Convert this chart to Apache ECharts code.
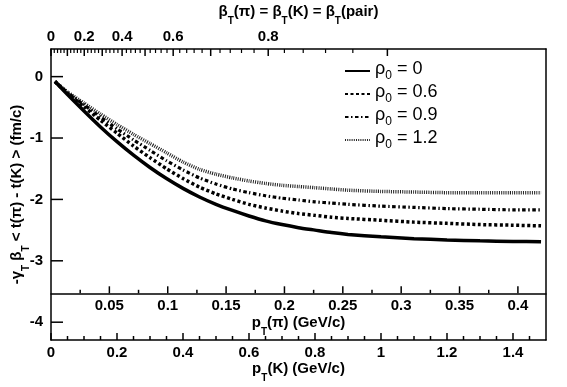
<!DOCTYPE html>
<html><head><meta charset="utf-8">
<script src="https://cdn.jsdelivr.net/npm/echarts@6/dist/echarts.min.js"></script>
<style>html,body{margin:0;padding:0;background:#fff}#c{width:567px;height:387px}</style>
</head><body><div id="c"></div>
<script>
// pT(K) in GeV/c
const pK    = [0.012, 0.05, 0.1, 0.15, 0.2, 0.25, 0.3, 0.35, 0.4, 0.45, 0.5, 0.55, 0.6, 0.65, 0.7, 0.75, 0.8, 0.85, 0.9, 1.0, 1.1, 1.2, 1.3, 1.4, 1.485];
const rho0  = [-0.08,-0.29,-0.56,-0.82,-1.06,-1.28,-1.48,-1.66,-1.82,-1.96,-2.08,-2.18,-2.27,-2.35,-2.41,-2.46,-2.50,-2.54,-2.57,-2.61,-2.64,-2.66,-2.675,-2.685,-2.69];
const rho06 = [-0.08,-0.27,-0.49,-0.71,-0.92,-1.13,-1.32,-1.50,-1.66,-1.80,-1.91,-2.00,-2.08,-2.14,-2.19,-2.23,-2.26,-2.29,-2.31,-2.34,-2.37,-2.39,-2.41,-2.42,-2.43];
const rho09 = [-0.08,-0.26,-0.46,-0.66,-0.85,-1.03,-1.20,-1.37,-1.52,-1.65,-1.75,-1.83,-1.89,-1.94,-1.98,-2.01,-2.04,-2.06,-2.08,-2.11,-2.13,-2.15,-2.16,-2.17,-2.17];
const rho12 = [-0.08,-0.25,-0.43,-0.61,-0.78,-0.94,-1.09,-1.24,-1.39,-1.51,-1.59,-1.65,-1.70,-1.74,-1.77,-1.79,-1.81,-1.83,-1.85,-1.87,-1.88,-1.89,-1.89,-1.89,-1.89];
const rhoLabels = ['0', '0.6', '0.9', '1.2'];
// tick values
const yTicks = [-4, -3, -2, -1, 0];
const pKMajor = [0, 0.2, 0.4, 0.6, 0.8, 1.0, 1.2, 1.4];
const pKMinor = [0.05,0.1,0.15,0.25,0.3,0.35,0.45,0.5,0.55,0.65,0.7,0.75,0.85,0.9,0.95,1.05,1.1,1.15,1.25,1.3,1.35,1.45];
const piMajor = [0.05, 0.1, 0.15, 0.2, 0.25, 0.3, 0.35, 0.4];
const piMinor = [0.025, 0.075, 0.125, 0.175, 0.225, 0.275, 0.325, 0.375];
const betaMajor = [0, 0.1, 0.2, 0.3, 0.4, 0.5, 0.6, 0.7, 0.8, 0.9];
const betaMinor = [0.02,0.04,0.06,0.08,0.12,0.14,0.16,0.18,0.22,0.24,0.26,0.28,0.32,0.34,0.36,0.38,0.42,0.44,0.46,0.48,0.52,0.54,0.56,0.58,0.62,0.64,0.66,0.68,0.72,0.74,0.76,0.78,0.82,0.84,0.86,0.88];
const betaLabels = [0, 0.2, 0.4, 0.6, 0.8];
const mK = 0.49368, mPi = 0.13957;
const pKmax = 1.5;
const yMin = -4.29, yMax = 0.45;

const pFromBeta = b => b * mK / Math.sqrt(1 - b * b);
const betaFromP = p => p / Math.sqrt(p * p + mK * mK);

const FONT = 'Liberation Sans, Arial, sans-serif';
const lbl = {fontFamily: FONT, fontWeight: 'bold', fontSize: 15, color: '#000'};
const richBold = {
  a: {fontFamily: FONT, fontWeight: 'bold', fontSize: 15, color: '#000', lineHeight: 22, verticalAlign: 'top'},
  s: {fontFamily: FONT, fontWeight: 'bold', fontSize: 10, color: '#000', lineHeight: 10, verticalAlign: 'bottom'}
};
const richLegend = {
  a: {fontFamily: FONT, fontSize: 18, color: '#000', lineHeight: 22, verticalAlign: 'top'},
  s: {fontFamily: FONT, fontSize: 12, color: '#000', lineHeight: 12, verticalAlign: 'bottom'}
};
const axLine = {show: true, onZero: false, lineStyle: {color: '#000', width: 1.5}};

const piLineFromBottom = 46.7;   // inner pT(pi) axis above the bottom frame (px)

const styles = [
  {type: 'solid', width: 3.5, color: '#000'},
  {type: [3, 2.5], width: 3.5, color: '#000'},
  {type: [3.5, 2.5, 1.5, 2.5], width: 3.2, color: '#000'},
  {type: [1, 1.2], width: 3.5, color: '#222'}
];
const allData = [rho0, rho06, rho09, rho12];
const names = rhoLabels.map(r => 'ρ0 = ' + r);

const chart = echarts.init(document.getElementById('c'), null, {renderer: 'canvas'});
chart.setOption({
  backgroundColor: '#fff',
  animation: false,
  grid: {left: 51, right: 21, top: 49, bottom: 47, containLabel: false, outerBoundsMode: 'none'},
  legend: {
    orient: 'vertical', left: 339, top: 55, itemWidth: 25, itemHeight: 14, itemGap: 1,
    data: names,
    itemStyle: {opacity: 0},
    formatter: n => '{a|ρ}{s|0}{a| = ' + n.split('= ')[1] + '}',
    textStyle: {rich: richLegend}
  },
  xAxis: [
    { // 0: pT(K)
      type: 'value', position: 'bottom', min: 0, max: pKmax, interval: 0.2,
      axisLine: axLine, axisTick: {show: false},
      axisLabel: Object.assign({margin: 5, showMaxLabel: false, formatter: v => String(Math.round(v * 10) / 10)}, lbl),
      splitLine: {show: false},
      name: '{a|p}{s|T}{a|(K) (GeV/c)}', nameLocation: 'middle', nameGap: 21, nameMoveOverlap: false,
      nameTextStyle: {rich: richBold}
    },
    { // 1: pT(pi)
      type: 'value', position: 'bottom', offset: -piLineFromBottom, min: 0, max: pKmax * mPi / mK, interval: 0.05,
      axisLine: axLine, axisTick: {show: false},
      axisLabel: Object.assign({margin: 5, showMinLabel: false, showMaxLabel: false,
        formatter: v => String(Math.round(v * 100) / 100)}, lbl),
      splitLine: {show: false},
      name: '{a|p}{s|T}{a|(π) (GeV/c)}', nameLocation: 'middle', nameGap: 22, nameMoveOverlap: false,
      nameTextStyle: {rich: richBold}
    },
    { // 2: beta (top)
      type: 'value', position: 'top', min: 0, max: pKmax,
      axisLine: axLine, axisTick: {show: false},
      axisLabel: Object.assign({margin: 5, customValues: betaLabels.map(pFromBeta),
        formatter: v => String(Math.round(betaFromP(v) * 10) / 10)}, lbl),
      splitLine: {show: false},
      name: '{a|β}{s|T}{a|(π) = β}{s|T}{a|(K) = β}{s|T}{a|(pair)}', nameLocation: 'middle', nameGap: 23, nameMoveOverlap: false,
      nameTextStyle: {rich: richBold}
    }
  ],
  yAxis: [
    {
      type: 'value', position: 'left', min: yMin, max: yMax,
      axisLine: axLine, axisTick: {show: false},
      axisLabel: Object.assign({margin: 8, customValues: yTicks}, lbl),
      splitLine: {show: false},
      name: '{a|-γ}{s|T}{a| β}{s|T}{a| < t(π) - t(K) > (fm/c)}', nameLocation: 'middle', nameGap: 20,
      nameRotate: 90, nameMoveOverlap: false,
      nameTextStyle: {rich: richBold}
    },
    {
      type: 'value', position: 'right', min: yMin, max: yMax,
      axisLine: axLine, axisTick: {show: false}, axisLabel: {show: false}, splitLine: {show: false}
    }
  ],
  series: allData.map((arr, k) => ({
    name: names[k], type: 'line', xAxisIndex: 0, yAxisIndex: 0,
    data: pK.map((x, i) => [x, arr[i]]),
    symbol: 'none', showSymbol: false, smooth: 0.2,
    lineStyle: styles[k], itemStyle: {color: styles[k].color},
    z: 10 - k
  }))
});

// tick marks as graphic rects, positioned through the axes' own scales
const tickEls = [];
function addTicks(xAxisIndex, values, toPoint, dir, len, shift, w) {
  values.forEach(v => {
    const p = chart.convertToPixel({xAxisIndex: xAxisIndex, yAxisIndex: 0}, toPoint(v));
    if (!p) return;
    const y0 = p[1] + shift;
    let shape;
    if (dir === 'right') shape = {x: p[0], y: y0 - w / 2, width: len, height: w};
    else if (dir === 'up') shape = {x: p[0] - w / 2, y: y0 - len, width: w, height: len};
    else shape = {x: p[0] - w / 2, y: y0, width: w, height: len};
    tickEls.push({type: 'rect', shape: shape, style: {fill: '#000'}, silent: true, z: 100});
  });
}
addTicks(0, yTicks, v => [0, v], 'right', 12, 0, 1.5);
addTicks(0, pKMajor, v => [v, yMin], 'up', 7, 0, 1.5);
addTicks(0, pKMinor, v => [v, yMin], 'up', 4, 0, 1.5);
addTicks(1, piMajor, v => [v, yMin], 'up', 7, -piLineFromBottom, 1.5);
addTicks(1, piMinor, v => [v, yMin], 'up', 3.5, -piLineFromBottom, 1.5);
addTicks(0, betaMajor, b => [pFromBeta(b), yMax], 'down', 7, 0, 1.5);
addTicks(0, betaMinor, b => [pFromBeta(b), yMax], 'down', 4, 0, 1.2);
chart.setOption({graphic: {elements: tickEls}});
</script></body></html>
